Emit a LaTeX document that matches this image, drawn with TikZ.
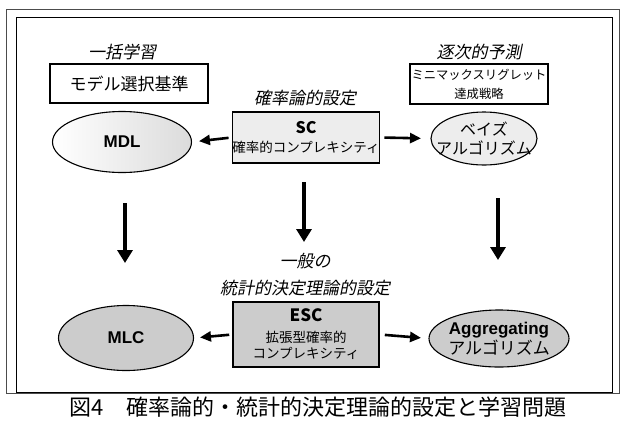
\documentclass[tikz,border=0pt]{standalone}
\usepackage{fontspec}
\setmainfont{Liberation Sans}
\newfontfamily\jp{Noto Sans CJK JP}
\newfontfamily\jpit{Noto Sans CJK JP}[FakeSlant=0.2]
\usetikzlibrary{shapes.geometric,arrows.meta}
\tikzset{
  lbl/.style={font=\jpit\fontsize{17}{20}\selectfont, inner sep=0pt},
  plainbox/.style={draw, line width=1.3pt, inner sep=0pt, align=center},
  setbox/.style={draw, line width=1.6pt, inner sep=0pt, align=center},
  ell/.style={draw, ellipse, line width=1.1pt, inner sep=0pt, outer sep=0pt},
  varrow/.style={line width=4pt, -{Triangle[length=13pt,width=15pt]}},
  harrow/.style={line width=2.6pt, -{Triangle[length=11pt,width=10pt]}},
}
\begin{document}
\begin{tikzpicture}[x=1pt,y=-1pt]
\useasboundingbox (0,0) rectangle (626,432);
% frames
\draw[line width=0.5pt, black!70] (6,9) rectangle (619,393);
\draw[line width=0.8pt] (16,17) rectangle (612,392);

% headings
\node[lbl] (hbatch) at (122,52) {一括学習};
\node[lbl] (hseq) at (479,52) {逐次的予測};
\node[lbl] (hprob) at (305,98) {確率論的設定};
\node[lbl] (hgen1) at (305,261) {一般の};
\node[lbl] (hgen2) at (305,288) {統計的決定理論的設定};

% plain boxes
\node[plainbox, minimum width=158pt, minimum height=39pt,
      font=\jp\fontsize{17}{20}\selectfont] (selbox) at (129,83.5) {モデル選択基準};
\node[plainbox, minimum width=138pt, minimum height=40pt,
      font=\jp\fontsize{12.3}{19}\selectfont] (mmbox) at (479,84) {ミニマックスリグレット\\達成戦略};

% setting boxes
\node[setbox, fill=gray!14, minimum width=146pt, minimum height=51pt,
      font=\jp\fontsize{13.5}{19}\selectfont] (sc) at (306,137.5)
      {{\fontsize{16}{19}\selectfont\bfseries SC}\\確率的コンプレキシティ};
\node[setbox, fill=gray!40, minimum width=146pt, minimum height=65pt,
      font=\jp\fontsize{13.5}{16.5}\selectfont] (esc) at (306,334.5)
      {{\fontsize{17}{19}\selectfont\bfseries ESC}\\[4pt]拡張型確率的\\コンプレキシティ};

% ellipses
\node[ell, left color=white, right color=gray!28, minimum width=139pt, minimum height=61pt,
      label={[font=\fontsize{17}{20}\selectfont\bfseries]center:MDL}] (mdl) at (122,142) {};
\node[ell, fill=gray!14, minimum width=106pt, minimum height=53pt,
      label={[align=center, font=\jp\fontsize{16}{19}\selectfont]center:ベイズ\\アルゴリズム}] (bayes) at (484,138.5) {};
\node[ell, fill=gray!40, minimum width=135pt, minimum height=65pt,
      label={[font=\fontsize{17}{20}\selectfont\bfseries]center:MLC}] (mlc) at (126,338) {};
\node[ell, fill=gray!40, minimum width=140pt, minimum height=57pt,
      label={[align=center, font=\fontsize{17}{20}\selectfont]center:{\bfseries Aggregating}\\{\jp アルゴリズム}}] (agg) at (499,338.5) {};

% horizontal arrows
\draw[harrow, shorten <=3pt, shorten >=7.5pt] (sc.west) -- (mdl.east);
\draw[harrow, shorten <=4pt, shorten >=10pt] (sc.east) -- (bayes.west);
\draw[harrow, shorten <=3pt, shorten >=6.5pt] (esc.west) -- (mlc.east);
\draw[harrow, shorten <=5pt, shorten >=8pt] (esc.east) -- (agg.west);

% vertical arrows
\coordinate (l1) at (125,203); \coordinate (l2) at (125,263);
\coordinate (c1) at (304,182); \coordinate (c2) at (304,242);
\coordinate (r1) at (498,198); \coordinate (r2) at (498,260);
\draw[varrow] (l1) -- (l2);
\draw[varrow] (c1) -- (c2);
\draw[varrow] (r1) -- (r2);

% caption
\node[font=\jp\fontsize{22}{24}\selectfont, inner sep=0pt] (cap) at (318,407)
  {図4\quad 確率論的・統計的決定理論的設定と学習問題};
\end{tikzpicture}
\end{document}
